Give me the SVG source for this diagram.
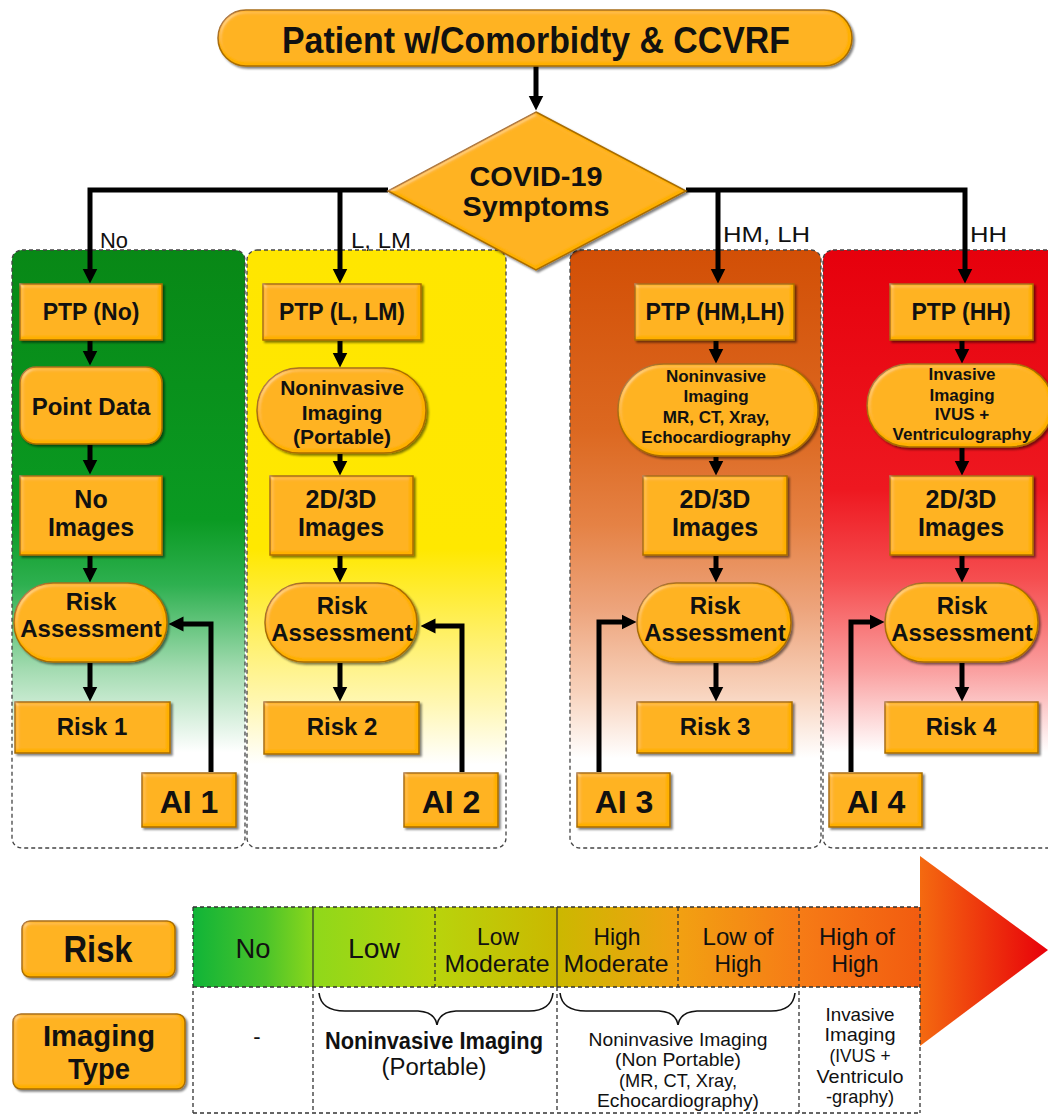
<svg xmlns="http://www.w3.org/2000/svg" width="1048" height="1115" viewBox="0 0 1048 1115">
<defs>
<style>
.node{fill:#FFB000;stroke:#A86C00;stroke-width:1.5;filter:url(#bevel)}
.t{font-family:"Liberation Sans",Arial,sans-serif;font-weight:bold;fill:#111;text-anchor:middle}
.c{font-family:"Liberation Sans Narrow","Liberation Sans",Arial,sans-serif;fill:#111;text-anchor:middle}
.cb{font-family:"Liberation Sans Narrow","Liberation Sans",Arial,sans-serif;font-weight:bold;fill:#111;text-anchor:middle}
.lbl{font-family:"Liberation Sans Narrow","Liberation Sans",Arial,sans-serif;fill:#111;font-size:22px}
.panel{stroke:#444;stroke-width:1.3;stroke-dasharray:4 3}
.conn{fill:none;stroke:#000;stroke-width:5}
.dash{fill:none;stroke:#333;stroke-width:1.3;stroke-dasharray:4 3}
.solid{fill:none;stroke:#333;stroke-width:1.2}
</style>
<filter id="bevel" x="-5%" y="-10%" width="112%" height="125%">
<feGaussianBlur in="SourceAlpha" stdDeviation="2" result="b"/>
<feSpecularLighting in="b" surfaceScale="3" specularConstant="0.6" specularExponent="20" lighting-color="#ffffff" result="s">
<feDistantLight azimuth="225" elevation="35"/>
</feSpecularLighting>
<feComposite in="s" in2="SourceAlpha" operator="in" result="s2"/>
<feComposite in="SourceGraphic" in2="s2" operator="arithmetic" k1="0" k2="1" k3="0.3" k4="0" result="lit"/>
<feOffset in="SourceAlpha" dx="2" dy="2" result="o"/>
<feGaussianBlur in="o" stdDeviation="1" result="ob"/>
<feFlood flood-color="#000" flood-opacity="0.5"/>
<feComposite in2="ob" operator="in" result="sh"/>
<feMerge><feMergeNode in="sh"/><feMergeNode in="lit"/></feMerge>
</filter>
<marker id="ah" viewBox="0 0 10 10" refX="1" refY="5" markerUnits="userSpaceOnUse" markerWidth="15" markerHeight="17" orient="auto">
<path d="M0,0 L10,5 L0,10 z" fill="#000"/>
</marker>
<linearGradient id="gGreen" x1="0" y1="0" x2="0" y2="1">
<stop offset="0" stop-color="#088816"/><stop offset="0.45" stop-color="#0a9a22"/><stop offset="0.56" stop-color="#2eb050"/><stop offset="0.7" stop-color="#a2dbb0"/><stop offset="0.84" stop-color="#ffffff"/><stop offset="1" stop-color="#ffffff"/>
</linearGradient>
<linearGradient id="gYellow" x1="0" y1="0" x2="0" y2="1">
<stop offset="0" stop-color="#ffe600"/><stop offset="0.5" stop-color="#ffe800"/><stop offset="0.64" stop-color="#fff064"/><stop offset="0.76" stop-color="#fff7b4"/><stop offset="0.86" stop-color="#ffffff"/><stop offset="1" stop-color="#ffffff"/>
</linearGradient>
<linearGradient id="gOrange" x1="0" y1="0" x2="0" y2="1">
<stop offset="0" stop-color="#d24f06"/><stop offset="0.3" stop-color="#dc6820"/><stop offset="0.46" stop-color="#e58245"/><stop offset="0.6" stop-color="#eda47c"/><stop offset="0.74" stop-color="#f8d3bd"/><stop offset="0.85" stop-color="#ffffff"/><stop offset="1" stop-color="#ffffff"/>
</linearGradient>
<linearGradient id="gRed" x1="0" y1="0" x2="0" y2="1">
<stop offset="0" stop-color="#e6000c"/><stop offset="0.4" stop-color="#ee1820"/><stop offset="0.55" stop-color="#f54e50"/><stop offset="0.7" stop-color="#fa9e9e"/><stop offset="0.84" stop-color="#ffffff"/><stop offset="1" stop-color="#ffffff"/>
</linearGradient>
<linearGradient id="gRisk" gradientUnits="userSpaceOnUse" x1="193" y1="0" x2="920" y2="0">
<stop offset="0" stop-color="#10b438"/><stop offset="0.1" stop-color="#4cc42a"/><stop offset="0.17" stop-color="#90d81a"/><stop offset="0.33" stop-color="#b8d40c"/><stop offset="0.5" stop-color="#cbb800"/><stop offset="0.67" stop-color="#f2a012"/><stop offset="0.83" stop-color="#f67c16"/><stop offset="1" stop-color="#f25c10"/>
</linearGradient>
<linearGradient id="gArrow" x1="0" y1="0" x2="1" y2="0">
<stop offset="0" stop-color="#f46a10"/><stop offset="1" stop-color="#e8000a"/>
</linearGradient>
</defs>
<rect width="1048" height="1115" fill="#ffffff"/>

<g id="panels">
<rect class="panel" x="12" y="250" width="233" height="598" rx="10" fill="url(#gGreen)"/>
<rect class="panel" x="247" y="250" width="259" height="598" rx="10" fill="url(#gYellow)"/>
<rect class="panel" x="570" y="250" width="251" height="598" rx="10" fill="url(#gOrange)"/>
<rect class="panel" x="823" y="250" width="240" height="598" rx="10" fill="url(#gRed)"/>
</g>

<g id="connectors">
<path class="conn" d="M536,66 V97" marker-end="url(#ah)"/>
<path class="conn" d="M388,190 H90 V270" marker-end="url(#ah)"/>
<path class="conn" d="M340,190 V270" marker-end="url(#ah)"/>
<path class="conn" d="M686,190 H965 V270" marker-end="url(#ah)"/>
<path class="conn" d="M718,190 V270" marker-end="url(#ah)"/>
<path class="conn" d="M90,341 V352" marker-end="url(#ah)"/>
<path class="conn" d="M90,445 V461" marker-end="url(#ah)"/>
<path class="conn" d="M90,556 V569" marker-end="url(#ah)"/>
<path class="conn" d="M90,663 V688" marker-end="url(#ah)"/>
<path class="conn" d="M340,341 V354" marker-end="url(#ah)"/>
<path class="conn" d="M340,454 V462" marker-end="url(#ah)"/>
<path class="conn" d="M340,556 V569" marker-end="url(#ah)"/>
<path class="conn" d="M340,663 V688" marker-end="url(#ah)"/>
<path class="conn" d="M716,341 V350" marker-end="url(#ah)"/>
<path class="conn" d="M716,457 V462" marker-end="url(#ah)"/>
<path class="conn" d="M716,556 V569" marker-end="url(#ah)"/>
<path class="conn" d="M716,663 V688" marker-end="url(#ah)"/>
<path class="conn" d="M962,341 V350" marker-end="url(#ah)"/>
<path class="conn" d="M962,448 V462" marker-end="url(#ah)"/>
<path class="conn" d="M962,556 V569" marker-end="url(#ah)"/>
<path class="conn" d="M962,663 V688" marker-end="url(#ah)"/>
<path class="conn" d="M211,772 V624 H182" marker-end="url(#ah)"/>
<path class="conn" d="M462,772 V626 H434" marker-end="url(#ah)"/>
<path class="conn" d="M599,772 V622 H623" marker-end="url(#ah)"/>
<path class="conn" d="M851,772 V622 H871" marker-end="url(#ah)"/>
</g>

<g id="labels">
<text class="lbl" x="100" y="248" textLength="28" lengthAdjust="spacingAndGlyphs">No</text>
<text class="lbl" x="351" y="248" textLength="60" lengthAdjust="spacingAndGlyphs">L, LM</text>
<text class="lbl" x="723" y="242" textLength="87" lengthAdjust="spacingAndGlyphs">HM, LH</text>
<text class="lbl" x="970" y="242" textLength="37" lengthAdjust="spacingAndGlyphs">HH</text>
</g>

<g id="title">
<rect class="node" x="218" y="10" width="634" height="56" rx="28"/>
<text class="cb" x="536" y="53" font-size="36" textLength="508" lengthAdjust="spacingAndGlyphs">Patient w/Comorbidty &amp; CCVRF</text>
</g>

<g id="decision">
<polygon class="node" points="536,112 686,191 536,270 388,191"/>
<text class="cb" x="536" y="186" font-size="28" textLength="133" lengthAdjust="spacingAndGlyphs">COVID-19</text>
<text class="cb" x="536" y="216" font-size="28" textLength="147" lengthAdjust="spacingAndGlyphs">Symptoms</text>
</g>

<!-- Column 1 -->
<g id="ptp-no"><rect class="node" x="20" y="284" width="142" height="56"/><text class="t" x="91" y="320" font-size="23">PTP (No)</text></g>
<g id="point-data"><rect class="node" x="20" y="367" width="142" height="77" rx="16"/><text class="t" x="91" y="415" font-size="24">Point Data</text></g>
<g id="no-images"><rect class="node" x="20" y="476" width="142" height="79"/><text class="t" x="91" y="508" font-size="25">No</text><text class="t" x="91" y="536" font-size="25">Images</text></g>
<g id="risk-assess-1"><rect class="node" x="14" y="583" width="153" height="79" rx="39"/><text class="t" x="91" y="610" font-size="24">Risk</text><text class="t" x="91" y="637" font-size="24">Assessment</text></g>
<g id="risk-1"><rect class="node" x="15" y="702" width="155" height="51"/><text class="t" x="92" y="735" font-size="24">Risk 1</text></g>
<g id="ai-1"><rect class="node" x="142" y="773" width="94" height="54"/><text class="t" x="189" y="813" font-size="32">AI 1</text></g>

<!-- Column 2 -->
<g id="ptp-l"><rect class="node" x="263" y="284" width="158" height="56"/><text class="t" x="342" y="320" font-size="23">PTP (L, LM)</text></g>
<g id="nonin-portable"><rect class="node" x="257" y="368" width="169" height="85" rx="42"/><text class="t" x="342" y="395" font-size="21">Noninvasive</text><text class="t" x="342" y="420" font-size="21">Imaging</text><text class="t" x="342" y="444" font-size="21">(Portable)</text></g>
<g id="images-2"><rect class="node" x="270" y="476" width="143" height="79"/><text class="t" x="341" y="508" font-size="25">2D/3D</text><text class="t" x="341" y="536" font-size="25">Images</text></g>
<g id="risk-assess-2"><rect class="node" x="265" y="583" width="152" height="79" rx="39"/><text class="t" x="342" y="614" font-size="24">Risk</text><text class="t" x="342" y="641" font-size="24">Assessment</text></g>
<g id="risk-2"><rect class="node" x="264" y="702" width="155" height="52"/><text class="t" x="342" y="735" font-size="24">Risk 2</text></g>
<g id="ai-2"><rect class="node" x="404" y="773" width="94" height="54"/><text class="t" x="451" y="813" font-size="32">AI 2</text></g>

<!-- Column 3 -->
<g id="ptp-hm"><rect class="node" x="635" y="284" width="159" height="56"/><text class="t" x="715" y="320" font-size="23">PTP (HM,LH)</text></g>
<g id="nonin-nonportable"><rect class="node" x="618" y="364" width="200" height="92" rx="46"/><text class="t" x="716" y="382" font-size="17">Noninvasive</text><text class="t" x="716" y="402" font-size="17">Imaging</text><text class="t" x="716" y="423" font-size="17">MR, CT, Xray,</text><text class="t" x="716" y="443" font-size="17">Echocardiography</text></g>
<g id="images-3"><rect class="node" x="643" y="476" width="144" height="79"/><text class="t" x="715" y="508" font-size="25">2D/3D</text><text class="t" x="715" y="536" font-size="25">Images</text></g>
<g id="risk-assess-3"><rect class="node" x="637" y="583" width="154" height="79" rx="39"/><text class="t" x="715" y="614" font-size="24">Risk</text><text class="t" x="715" y="641" font-size="24">Assessment</text></g>
<g id="risk-3"><rect class="node" x="637" y="702" width="155" height="51"/><text class="t" x="715" y="735" font-size="24">Risk 3</text></g>
<g id="ai-3"><rect class="node" x="577" y="773" width="93" height="54"/><text class="t" x="624" y="813" font-size="32">AI 3</text></g>

<!-- Column 4 -->
<g id="ptp-hh"><rect class="node" x="890" y="284" width="143" height="56"/><text class="t" x="961" y="320" font-size="23">PTP (HH)</text></g>
<g id="invasive"><rect class="node" x="867" y="364" width="186" height="83" rx="42"/><text class="t" x="962" y="380" font-size="17">Invasive</text><text class="t" x="962" y="401" font-size="17">Imaging</text><text class="t" x="962" y="420" font-size="17">IVUS +</text><text class="t" x="962" y="440" font-size="17">Ventriculography</text></g>
<g id="images-4"><rect class="node" x="890" y="476" width="143" height="79"/><text class="t" x="961" y="508" font-size="25">2D/3D</text><text class="t" x="961" y="536" font-size="25">Images</text></g>
<g id="risk-assess-4"><rect class="node" x="885" y="583" width="153" height="79" rx="39"/><text class="t" x="962" y="614" font-size="24">Risk</text><text class="t" x="962" y="641" font-size="24">Assessment</text></g>
<g id="risk-4"><rect class="node" x="885" y="702" width="153" height="51"/><text class="t" x="961" y="735" font-size="24">Risk 4</text></g>
<g id="ai-4"><rect class="node" x="829" y="773" width="93" height="54"/><text class="t" x="876" y="813" font-size="32">AI 4</text></g>

<!-- Legend -->
<g id="legend-arrow"><polygon points="920,856 1048,950 920,1046" fill="url(#gArrow)"/></g>
<g id="legend-risk-label"><rect class="node" x="22" y="921" width="153" height="56" rx="8"/><text class="cb" x="98" y="962" font-size="37" textLength="69" lengthAdjust="spacingAndGlyphs">Risk</text></g>
<g id="legend-imaging-label"><rect class="node" x="13" y="1014" width="172" height="75" rx="8"/><text class="cb" x="99" y="1046" font-size="30" textLength="112" lengthAdjust="spacingAndGlyphs">Imaging</text><text class="cb" x="99" y="1079" font-size="30" textLength="62" lengthAdjust="spacingAndGlyphs">Type</text></g>

<g id="legend-table">
<rect x="193" y="907" width="727" height="80" fill="url(#gRisk)"/>
<path class="dash" d="M193,907 H920 M193,987 H920 M193,1113 H920 M193,907 V1113 M435,907 V987 M678,907 V987 M799,907 V1113 M920,907 V1113 M313,987 V1113 M557,987 V1113"/>
<path class="solid" d="M313,907 V987 M557,907 V987"/>
<text class="c" x="253" y="958" font-size="28" textLength="35" lengthAdjust="spacingAndGlyphs">No</text>
<text class="c" x="374" y="958" font-size="28" textLength="52" lengthAdjust="spacingAndGlyphs">Low</text>
<text class="c" x="498" y="945" font-size="24" textLength="42" lengthAdjust="spacingAndGlyphs">Low</text>
<text class="c" x="497" y="972" font-size="24" textLength="105" lengthAdjust="spacingAndGlyphs">Moderate</text>
<text class="c" x="617" y="945" font-size="24" textLength="47" lengthAdjust="spacingAndGlyphs">High</text>
<text class="c" x="616" y="972" font-size="24" textLength="105" lengthAdjust="spacingAndGlyphs">Moderate</text>
<text class="c" x="738" y="945" font-size="24" textLength="71" lengthAdjust="spacingAndGlyphs">Low of</text>
<text class="c" x="738" y="972" font-size="24" textLength="47" lengthAdjust="spacingAndGlyphs">High</text>
<text class="c" x="857" y="945" font-size="24" textLength="76" lengthAdjust="spacingAndGlyphs">High of</text>
<text class="c" x="855" y="972" font-size="24" textLength="47" lengthAdjust="spacingAndGlyphs">High</text>
<path fill="none" stroke="#111" stroke-width="1.6" d="M319,993 Q321,1011 345,1011 L418,1011 Q435,1012 437,1025 Q439,1012 456,1011 L529,1011 Q551,1011 553,993"/>
<path fill="none" stroke="#111" stroke-width="1.6" d="M560,993 Q562,1011 586,1011 L659,1011 Q676,1012 678,1025 Q680,1012 697,1011 L771,1011 Q793,1011 795,993"/>
<text class="c" x="257" y="1044" font-size="22">-</text>
<text class="cb" x="434" y="1049" font-size="23" textLength="218" lengthAdjust="spacingAndGlyphs">Noninvasive Imaging</text>
<text class="c" x="434" y="1075" font-size="23" textLength="105" lengthAdjust="spacingAndGlyphs">(Portable)</text>
<text class="c" x="678" y="1046" font-size="19" textLength="179" lengthAdjust="spacingAndGlyphs">Noninvasive Imaging</text>
<text class="c" x="678" y="1066" font-size="19" textLength="126" lengthAdjust="spacingAndGlyphs">(Non Portable)</text>
<text class="c" x="678" y="1087" font-size="19" textLength="118" lengthAdjust="spacingAndGlyphs">(MR, CT, Xray,</text>
<text class="c" x="678" y="1107" font-size="19" textLength="162" lengthAdjust="spacingAndGlyphs">Echocardiography)</text>
<text class="c" x="860" y="1021" font-size="19" textLength="69" lengthAdjust="spacingAndGlyphs">Invasive</text>
<text class="c" x="860" y="1041" font-size="19" textLength="71" lengthAdjust="spacingAndGlyphs">Imaging</text>
<text class="c" x="860" y="1062" font-size="19" textLength="61" lengthAdjust="spacingAndGlyphs">(IVUS +</text>
<text class="c" x="860" y="1083" font-size="19" textLength="87" lengthAdjust="spacingAndGlyphs">Ventriculo</text>
<text class="c" x="860" y="1103" font-size="19" textLength="68" lengthAdjust="spacingAndGlyphs">-graphy)</text>
</g>
</svg>
